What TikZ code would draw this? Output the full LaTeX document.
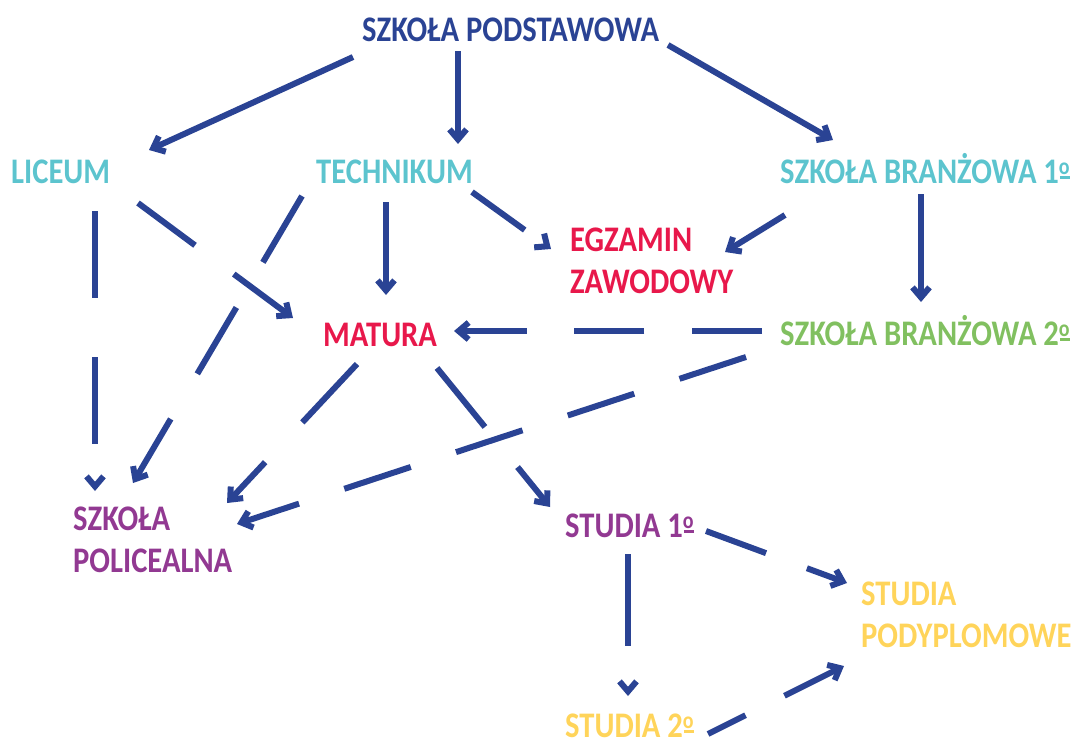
\documentclass[tikz,border=0pt]{standalone}
\usepackage{fontspec}
\setmainfont{Carlito}[FakeStretch=0.85]
\usetikzlibrary{arrows.meta}
\definecolor{navy}{RGB}{42,67,148}
\definecolor{turq}{RGB}{92,196,206}
\definecolor{crim}{RGB}{232,24,75}
\definecolor{leaf}{RGB}{129,192,96}
\definecolor{plum}{RGB}{146,57,146}
\definecolor{sun}{RGB}{255,212,90}
\newcommand\ordo{\rlap{\kern1pt\rule[4.5pt]{10pt}{2.5pt}}\raisebox{9pt}{\fontsize{23.5}{24}\selectfont o}}

\begin{document}
\begin{tikzpicture}[
	x=1pt, y=-1pt,
	lbl/.style={
		anchor=base west,
		inner sep=0pt,
		align=left,
		font=\fontsize{36}{42}\selectfont\bfseries
	},
	arr/.style={
		draw=navy,
		line width=6pt,
		-{Straight Barb[length=10pt,width=17pt]}
	},
	dsh/.style={
		arr,
		dash pattern=on #1pt off 0.68*#1pt
	}
	]

	\useasboundingbox (0,0) rectangle (1075,742);

	\node [lbl, text=navy] (Podst) at (362,41) {SZKOŁA PODSTAWOWA};
	\node [lbl, text=turq] (Liceum) at (11,183) {LICEUM};
	\node [lbl, text=turq] (Tech) at (316,183) {TECHNIKUM};
	\node [lbl, text=turq] (Branz1) at (780,183) {SZKOŁA BRANŻOWA 1\ordo};
	\node [lbl, text=crim] (Egzamin) at (570,293) {EGZAMIN\\ZAWODOWY};
	\node [lbl, text=crim] (Matura) at (323,346) {MATURA};
	\node [lbl, text=leaf] (Branz2) at (780,345) {SZKOŁA BRANŻOWA 2\ordo};
	\node [lbl, text=plum] (Polic) at (73,572) {SZKOŁA\\POLICEALNA};
	\node [lbl, text=plum] (Stud1) at (565,537) {STUDIA 1\ordo};
	\node [lbl, text=sun] (Podypl) at (861,647) {STUDIA\\PODYPLOMOWE};
	\node [lbl, text=sun] (Stud2) at (565,737) {STUDIA 2\ordo};

	\draw [arr] ([shift={(-9,16)}]Podst.base west) -- ([shift={(138,-33)}]Liceum.base west);
	\draw [arr] ([shift={(96,10)}]Podst.base west) -- ([shift={(142,-39)}]Tech.base west);
	\draw [arr] ([shift={(306,4)}]Podst.base west) -- ([shift={(53,-43)}]Branz1.base west);

	\draw [dsh=87] ([shift={(84,28)}]Liceum.base west) -- ([shift={(22,-81)}]Polic.base west);
	\draw [dsh=71] ([shift={(127,20)}]Liceum.base west) -- ([shift={(-30,-28)}]Matura.base west);

	\draw [dsh=77] ([shift={(-14,13)}]Tech.base west) -- ([shift={(60,-89)}]Polic.base west);
	\draw [arr] ([shift={(70,19)}]Tech.base west) -- ([shift={(63,-51)}]Matura.base west);
	\draw [dsh=65] ([shift={(156,9)}]Tech.base west) -- ([shift={(-19,-44)}]Egzamin.base west);

	\draw [arr] ([shift={(5,32)}]Branz1.base west) -- ([shift={(155,-41)}]Egzamin.base west);
	\draw [arr] ([shift={(141,11)}]Branz1.base west) -- ([shift={(141,-43)}]Branz2.base west);

	\draw [dsh=70] ([shift={(-18,-14)}]Branz2.base west) -- ([shift={(131,-15)}]Matura.base west);
	\draw [dsh=70] ([shift={(-34,12)}]Branz2.base west) -- ([shift={(164,-48)}]Polic.base west);

	\draw [dsh=80] ([shift={(34,18)}]Matura.base west) -- ([shift={(154,-69)}]Polic.base west);
	\draw [dsh=76] ([shift={(114,22)}]Matura.base west) -- ([shift={(-15,-30)}]Stud1.base west);

	\draw [dsh=92] ([shift={(63,17)}]Stud1.base west) -- ([shift={(63,-41)}]Stud2.base west);
	\draw [dsh=64] ([shift={(141,-6)}]Stud1.base west) -- ([shift={(-14,-64)}]Podypl.base west);
	\draw [dsh=64, dash phase=22pt] ([shift={(143,-3)}]Stud2.base west) -- ([shift={(-17,19)}]Podypl.base west);

\end{tikzpicture}
\end{document}
